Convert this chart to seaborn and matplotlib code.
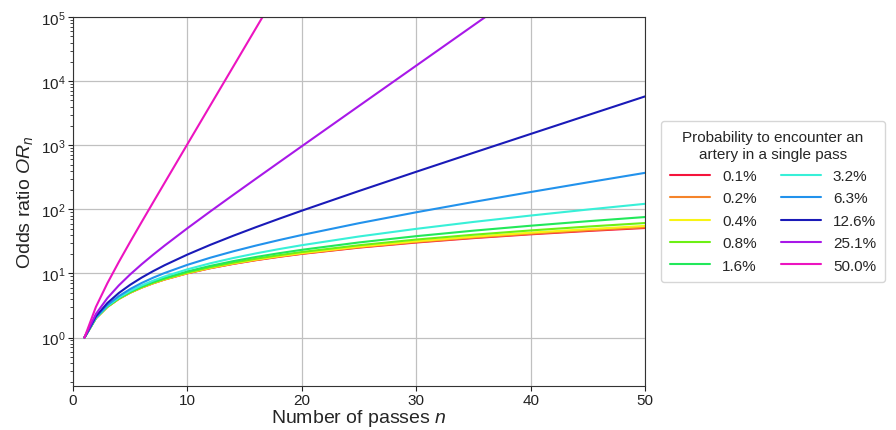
import numpy as np
import pandas as pd
import matplotlib
matplotlib.use("Agg")
import matplotlib.pyplot as plt
import seaborn as sns

# number of passes n (x positions)
n_passes = [1, 2, 3, 4, 5, 6, 7, 8, 10, 12, 14, 16, 18, 20, 25, 30, 35, 40, 45, 50]

# odds ratio OR_n read for each single-pass probability
or_0_1 = [1, 2.001, 3.003, 4.006, 5.01, 6.015, 7.02, 8.03, 10.05, 12.07, 14.09, 16.12, 18.15, 20.2, 25.3, 30.4, 35.6, 40.8, 46.0, 51.2]
or_0_2 = [1, 2.002, 3.006, 4.012, 5.02, 6.03, 7.04, 8.06, 10.09, 12.13, 14.18, 16.24, 18.31, 20.38, 25.6, 30.9, 36.2, 41.6, 47.0, 52.5]
or_0_4 = [1, 2.004, 3.012, 4.024, 5.04, 6.06, 7.08, 8.11, 10.18, 12.26, 14.37, 16.49, 18.62, 20.78, 26.24, 31.8, 37.5, 43.3, 49.2, 55.2]
or_0_8 = [1, 2.008, 3.024, 4.05, 5.08, 6.12, 7.17, 8.23, 10.37, 12.54, 14.75, 17.0, 19.28, 21.6, 27.56, 33.8, 40.2, 46.9, 53.9, 61.2]
or_1_6 = [1, 2.016, 3.049, 4.098, 5.164, 6.247, 7.347, 8.466, 10.76, 13.12, 15.56, 18.09, 20.69, 23.38, 30.49, 38.19, 46.53, 55.56, 65.34, 75.94]
or_3_2 = [1, 2.033, 3.099, 4.2, 5.337, 6.512, 7.724, 8.977, 11.6, 14.41, 17.4, 20.58, 23.98, 27.61, 37.76, 49.67, 63.67, 80.1, 99.4, 122.1]
or_6_3 = [1, 2.067, 3.206, 4.422, 5.72, 7.106, 8.584, 10.16, 13.64, 17.61, 22.13, 27.28, 33.15, 39.83, 60.9, 90.08, 130.5, 186.5, 264.1, 371.5]
or_12_6 = [1, 2.144, 3.453, 4.95, 6.663, 8.622, 10.86, 13.43, 19.72, 27.96, 38.73, 52.84, 71.29, 95.46, 193.7, 386.3, 763.7, 1503, 2953, 5794]
or_25_1 = [1, 2.335, 4.119, 6.501, 9.681, 13.93, 19.6, 27.18, 50.81, 92.95, 168.1, 302.1, 541.2, 967.5, 4120, 17510, 74390, 316000, np.nan, np.nan]
or_50_0 = [1, 3.005, 7.024, 15.08, 31.24, 63.62, 128.6, 258.7, 1043, 4195, 16860, 67780, 272400, np.nan, np.nan, np.nan, np.nan, np.nan, np.nan, np.nan]

prob_labels = ["0.1%", "0.2%", "0.4%", "0.8%", "1.6%", "3.2%", "6.3%", "12.6%", "25.1%", "50.0%"]
series = [or_0_1, or_0_2, or_0_4, or_0_8, or_1_6, or_3_2, or_6_3, or_12_6, or_25_1, or_50_0]
colors = ["#f5143c", "#f5842a", "#f8f414", "#6cf014", "#22e85a",
          "#38f0d8", "#2292ec", "#1a1ab8", "#a818e8", "#ec14c0"]

frames = []
for lab, vals in zip(prob_labels, series):
    frames.append(pd.DataFrame({"n": n_passes, "OR": vals, "p": lab}))
df = pd.concat(frames, ignore_index=True).dropna()

sns.set_style("ticks")
plt.rcParams["font.family"] = ["Liberation Sans", "DejaVu Sans"]
plt.rcParams["mathtext.fontset"] = "custom"
plt.rcParams["mathtext.rm"] = "Liberation Sans"
plt.rcParams["mathtext.it"] = "Liberation Sans:italic"

fig = plt.figure(figsize=(8.96, 4.31), dpi=100)
ax = fig.add_axes([0.0815, 0.103, 0.6385, 0.855])

sns.lineplot(data=df, x="n", y="OR", hue="p", hue_order=prob_labels,
             palette=colors, linewidth=1.5, ax=ax, legend=False, sort=False)

ax.set_yscale("log")
ax.set_xlim(0, 50)
ax.set_ylim(10 ** -0.75, 1e5)
ax.set_xticks([0, 10, 20, 30, 40, 50])
ax.grid(True, which="major", color="#c0c0c0", linewidth=0.9)
ax.tick_params(labelsize=11, colors="#222222", pad=2)
ax.tick_params(axis="y", which="minor", length=2.5, left=True)
for sp in ax.spines.values():
    sp.set_color("#333333")
ax.set_xlabel("Number of passes $n$", fontsize=14, labelpad=0)
ax.set_ylabel("Odds ratio $OR_n$", fontsize=14, labelpad=4)

handles = [plt.Line2D([], [], color=c, linewidth=1.5) for c in colors]
leg = fig.legend(handles, prob_labels, ncol=2, fontsize=11,
                 title="Probability to encounter an\nartery in a single pass",
                 title_fontsize=11, loc="center left",
                 bbox_to_anchor=(0.729, 0.53), frameon=True,
                 handlelength=2.6, columnspacing=1.6, labelspacing=0.55,
                 borderpad=0.6)
leg.get_title().set_multialignment("center")
leg.get_frame().set_edgecolor("#cccccc")

fig.savefig("out.png", dpi=100)
